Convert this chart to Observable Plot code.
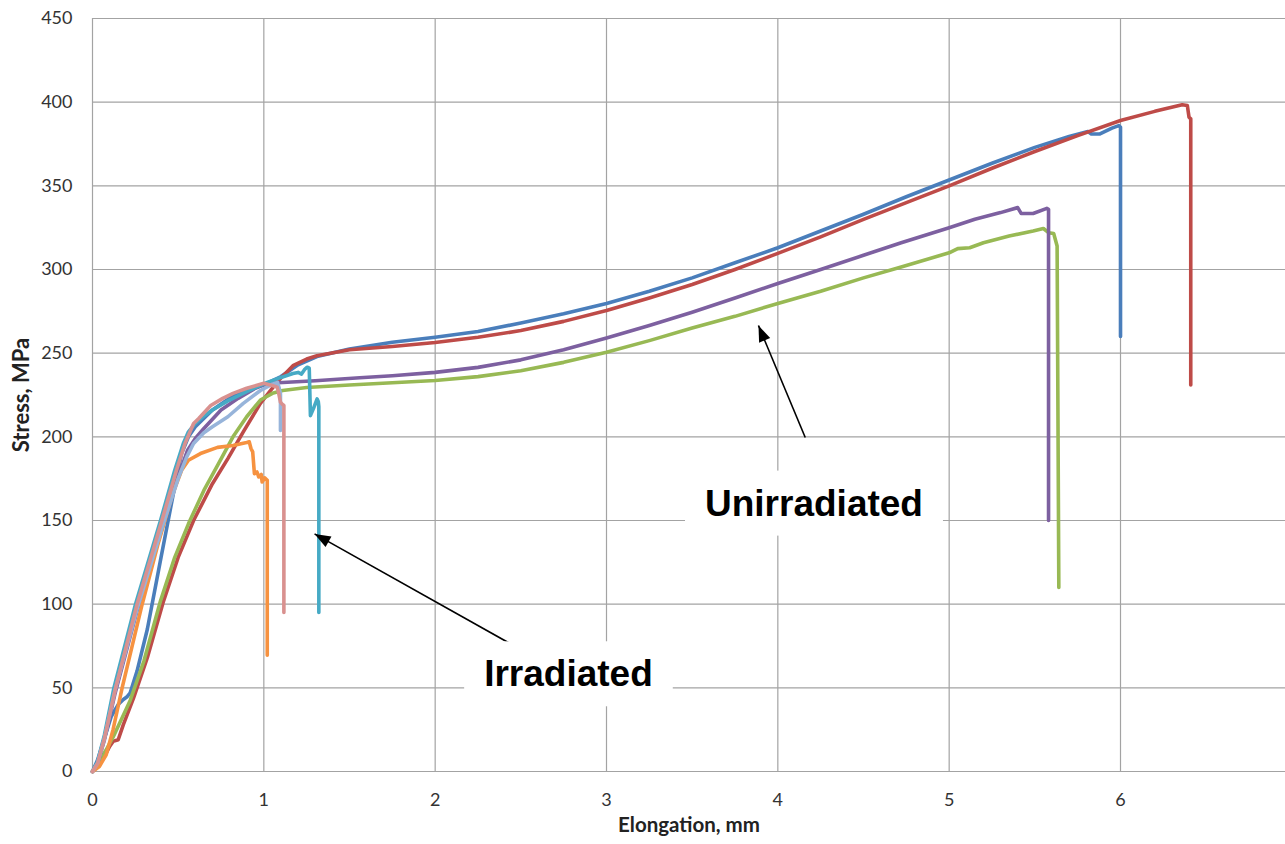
<!DOCTYPE html>
<html><head><meta charset="utf-8">
<script src="https://cdn.jsdelivr.net/npm/d3@7"></script>
<script src="https://cdn.jsdelivr.net/npm/@observablehq/plot@0.6"></script>
<style>body{margin:0;background:#fff;}</style>
</head><body><div id="chart"></div>
<script>
// ---- data ----
const seriesNames = ["Unirradiated 1","Unirradiated 2","Unirradiated 3","Unirradiated 4","Irradiated 1","Irradiated 2","Irradiated 3","Irradiated 4"];
const seriesColors = ["#4A7EBB","#BE4B48","#98B954","#7D60A0","#46AAC5","#F69240","#97B4DA","#D9918F"];

const u1Elong = [0,0.03,0.07,0.11,0.15,0.18,0.2,0.22,0.26,0.32,0.4,0.47,0.52,0.56,0.6,0.7,0.8,0.9,1.0,1.1,1.2,1.31,1.5,1.75,2.0,2.25,2.5,2.75,3.0,3.25,3.5,3.75,4.0,4.25,4.5,4.75,5.0,5.25,5.5,5.7,5.81,5.83,5.88,5.95,5.99,6.0,6.0];
const u1Stress = [0,7,20,33,40,43,44.5,47,60,85,128,165,190,200,206,216,223,228,231,236,243,248,252.5,256.5,259.5,263,268,273.5,279.7,287,295,304,313,323,333,343.5,353.5,363.5,373,379.5,382.5,381,381,384.5,386,385,260];

const u2Elong = [0,0.03,0.07,0.1,0.12,0.15,0.18,0.24,0.32,0.415,0.5,0.59,0.7,0.79,0.88,0.98,1.08,1.17,1.25,1.31,1.5,1.75,2.0,2.25,2.5,2.75,3.0,3.25,3.5,3.75,4.0,4.25,4.5,4.75,5.0,5.25,5.5,5.75,6.0,6.2,6.36,6.39,6.4,6.41,6.41];
const u2Stress = [0,3,9,15,18,19,28,44,68,102,128,150,172,187,203,220,233,242.5,246.5,248.5,252,254,256.4,259.5,263.5,269,275.5,283,291,300,309.6,319.5,330,340,350,360.5,370.5,380,389,394.5,398.5,398,391,390,231];

const u3Elong = [0,0.04,0.08,0.12,0.15,0.22,0.3,0.397,0.48,0.56,0.65,0.73,0.82,0.9,0.98,1.05,1.11,1.25,1.5,1.75,2.0,2.25,2.5,2.75,3.0,3.25,3.5,3.75,4.0,4.25,4.5,4.72,5.0,5.05,5.12,5.2,5.35,5.49,5.55,5.58,5.61,5.63,5.64];
const u3Stress = [0,6,13,20.5,27,42.5,66,102,128,148,168,183,200,212,222,226,227.7,229.5,231,232.3,233.7,236,239.5,244.5,250.5,257.5,265,272,279.7,287,295,301.5,310,312.5,313,316,320,323,324.5,322,321.5,314,110];

const u4Elong = [0,0.03,0.07,0.13,0.26,0.42,0.5,0.555,0.6,0.65,0.75,0.85,0.95,1.02,1.11,1.3,1.56,1.75,2.0,2.25,2.5,2.75,3.0,3.25,3.5,3.75,4.0,4.25,4.5,4.72,5.0,5.15,5.3,5.4,5.42,5.49,5.57,5.58,5.58];
const u4Stress = [0,5,19,46,96,150,176,192,199,205,216,223,229,232,232.5,233.5,235.3,236.5,238.5,241.5,246,252,259,266.5,274.5,283,291.6,300,308.5,316,325,330,334,337,333.5,333.5,336.5,336,150];

const i1Elong = [0,0.03,0.07,0.125,0.251,0.397,0.48,0.53,0.56,0.6,0.65,0.7,0.79,0.9,1.02,1.1,1.17,1.2,1.22,1.24,1.253,1.265,1.272,1.29,1.311,1.318,1.321,1.321];
const i1Stress = [0,6,22,50,100,150,180,196,203,208,212.5,216,221.5,227,232.5,235.5,237.8,238.5,237.5,240.5,241.6,241,212.7,217,222.7,221,218,95];

const i2Elong = [0,0.04,0.08,0.12,0.173,0.29,0.38,0.465,0.52,0.56,0.63,0.73,0.82,0.9,0.915,0.925,0.935,0.945,0.96,0.97,0.985,0.99,1.005,1.02,1.02];
const i2Stress = [0,3,10,25,50,100,135,165,180,186,190,193.7,194.8,196.6,197,193,191,178,179,176,177.5,173,175.5,174,69.5];

const i3Elong = [0,0.03,0.07,0.13,0.26,0.41,0.5,0.55,0.59,0.65,0.7,0.79,0.88,0.98,1.05,1.08,1.09,1.097,1.097];
const i3Stress = [0,5,20,48,97,147,175,188,196,202.5,206,212,220,227.7,231.5,232.5,229,225.8,203.8];

const i4Elong = [0,0.03,0.07,0.135,0.26,0.405,0.49,0.54,0.59,0.62,0.69,0.76,0.82,0.9,1.0,1.049,1.078,1.087,1.097,1.107,1.117,1.117];
const i4Stress = [0,5,20,50,100,150,180,196,208,211,218.7,223,226,229,232,230.7,229.7,226,220.7,219.5,218.7,95];

const xTicks = [0,1,2,3,4,5,6];
const yTicks = [0,50,100,150,200,250,300,350,400,450];
const xMax = 6.963;
const yMax = 450;

const noteLabels = ["Unirradiated","Irradiated"];
const noteElong = [4.211, 2.778];
const noteStress = [160, 58];
const arrowFromElong = [4.16, 2.48];
const arrowFromStress = [199.6, 74];
const arrowToElong = [3.887, 1.296];
const arrowToStress = [266.5, 142];

// ---- build tables ----
const allElong = [u1Elong,u2Elong,u3Elong,u4Elong,i1Elong,i2Elong,i3Elong,i4Elong];
const allStress = [u1Stress,u2Stress,u3Stress,u4Stress,i1Stress,i2Stress,i3Stress,i4Stress];
const rows = [];
seriesNames.forEach((s, k) => {
  allElong[k].forEach((e, j) => rows.push({series: s, elong: e, stress: allStress[k][j]}));
});
const notes = noteLabels.map((t, k) => ({text: t, elong: noteElong[k], stress: noteStress[k]}));
const arrows = noteLabels.map((t, k) => ({x1: arrowFromElong[k], y1: arrowFromStress[k], x2: arrowToElong[k], y2: arrowToStress[k]}));

const gridColor = "#a3a3a3";
const chart = Plot.plot({
  width: 1285, height: 844,
  marginLeft: 92, marginRight: 0, marginTop: 18, marginBottom: 73,
  x: {domain: [0, xMax]},
  y: {domain: [0, yMax]},
  color: {domain: seriesNames, range: seriesColors},
  style: {fontFamily: "Lato, 'Open Sans', sans-serif", color: "#333", background: "#fff"},
  marks: [
    Plot.gridX(xTicks, {stroke: gridColor, strokeOpacity: 1, strokeWidth: 1.2}),
    Plot.gridY(yTicks, {stroke: gridColor, strokeOpacity: 1, strokeWidth: 1.2}),
    Plot.axisX(xTicks, {tickSize: 0, tickPadding: 22, fontSize: 18, label: null, tickFormat: d => String(d)}),
    Plot.axisY(yTicks, {tickSize: 0, tickPadding: 20, fontSize: 18, label: null, tickFormat: d => String(d)}),
    Plot.line(rows, {x: "elong", y: "stress", z: "series", stroke: "series", strokeWidth: 3.6, strokeLinejoin: "round", strokeLinecap: "round"}),
    Plot.link(arrows, {x1: "x1", y1: "y1", x2: "x2", y2: "y2", stroke: "#000", strokeWidth: 1.6}),
    Plot.text(notes, {x: "elong", y: "stress", text: "text", fontSize: 37, fontWeight: "bold", fontFamily: "'Liberation Sans', Arial, sans-serif", fill: "#000"}),
    Plot.text(["Elongation, mm"], {frameAnchor: "bottom", dy: 60, fontWeight: "bold", fontSize: 20.5, fill: "#222"}),
    Plot.text(["Stress, MPa"], {frameAnchor: "left", textAnchor: "middle", dx: -71, rotate: -90, fontWeight: "bold", fontSize: 22, fill: "#222"})
  ]
});
document.getElementById("chart").append(chart);

// ---- post-process: filled arrowheads, white boxes behind annotations ----
const svg = d3.select(chart);
const defs = svg.append("defs");
defs.append("marker").attr("id", "ahead").attr("markerUnits", "userSpaceOnUse")
  .attr("markerWidth", 18).attr("markerHeight", 14).attr("refX", 16).attr("refY", 7)
  .attr("orient", "auto").attr("overflow", "visible")
  .append("path").attr("d", "M0,1L16,7L0,13Z").attr("fill", "#000");
svg.selectAll('g[aria-label="link"] path').attr("marker-end", "url(#ahead)");
svg.selectAll("text").filter(function() { return noteLabels.includes(this.textContent); }).each(function() {
  const b = this.getBBox();
  const node = this;
  const r = d3.select(this.parentNode).insert("rect", () => node)
    .attr("x", b.x - 20).attr("y", b.y - 12).attr("width", b.width + 40).attr("height", b.height + 24)
    .attr("fill", "#fff");
  const t = this.getAttribute("transform");
  if (t) r.attr("transform", t);
});
</script>
</body></html>
